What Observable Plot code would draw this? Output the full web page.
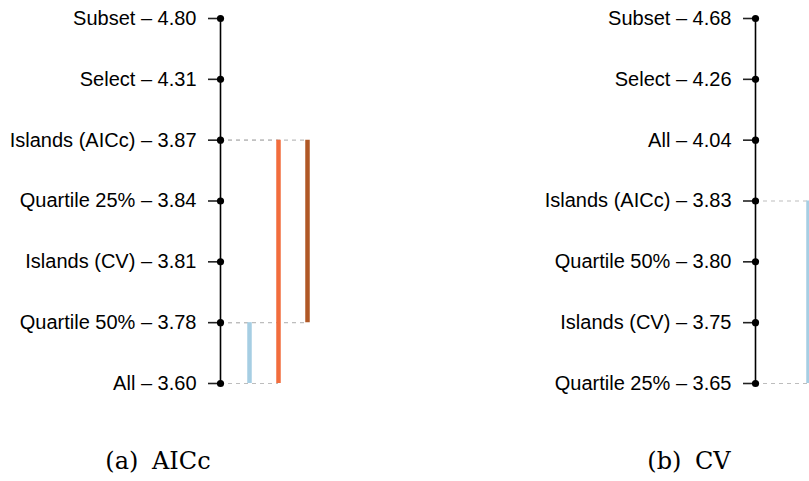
<!DOCTYPE html>
<html>
<head>
<meta charset="utf-8">
<script src="https://cdn.jsdelivr.net/npm/d3@7"></script>
<script src="https://cdn.jsdelivr.net/npm/@observablehq/plot@0.6"></script>
<style>
  html, body { margin: 0; padding: 0; background: #fff; }
  #wrap { position: relative; width: 809px; height: 481px; overflow: hidden; background: #fff; }
  .panel { position: absolute; top: 0; }
  .cap { position: absolute; top: 446px; transform: translateX(-50%); font-family: "DejaVu Serif", "Liberation Serif", serif; font-size: 24px; line-height: 30px; color: #000; white-space: nowrap; word-spacing: 6px; font-weight: 300; }
</style>
</head>
<body>
<div id="wrap">
  <div id="pa" class="panel" style="left:0px"></div>
  <div id="pb" class="panel" style="left:404px"></div>
  <div class="cap" style="left:158px">(a) AICc</div>
  <div class="cap" style="left:689px">(b) CV</div>
</div>
<script>
// ---- Data: panel (a) AICc ----
const aicLabels = ["Subset", "Select", "Islands (AICc)", "Quartile 25%", "Islands (CV)", "Quartile 50%", "All"];
const aicValues = [4.80, 4.31, 3.87, 3.84, 3.81, 3.78, 3.60];
const aicCliqueFrom = ["Quartile 50%", "Islands (AICc)", "Islands (AICc)"];
const aicCliqueTo = ["All", "All", "Quartile 50%"];
const aicCliqueColors = ["#a6cee3", "#f26d3d", "#b05826"];

// ---- Data: panel (b) CV ----
const cvLabels = ["Subset", "Select", "All", "Islands (AICc)", "Quartile 50%", "Islands (CV)", "Quartile 25%"];
const cvValues = [4.68, 4.26, 4.04, 3.83, 3.80, 3.75, 3.65];
const cvCliqueFrom = ["Islands (AICc)"];
const cvCliqueTo = ["Quartile 25%"];
const cvCliqueColors = ["#a6cee3"];

function cdPlot({labels, values, from, to, colors, width, marginLeft, marginRight, nCols}) {
  const n = labels.length;
  const rows = labels.map((l, i) => ({i, label: `${l} \u2013 ${values[i].toFixed(2)}`}));
  const cliques = from.map((f, k) => ({
    k: k + 1,
    y1: labels.indexOf(f),
    y2: labels.indexOf(to[k]),
    color: colors[k]
  }));
  const ends = cliques.flatMap(c => [{k: c.k, y: c.y1}, {k: c.k, y: c.y2}]);
  return Plot.plot({
    width,
    height: 400,
    marginLeft,
    marginRight,
    marginTop: 18,
    marginBottom: 17,
    style: {fontFamily: "'Liberation Sans', Arial, Helvetica, sans-serif", color: "#000", background: "#fff", overflow: "visible"},
    x: {domain: [0, nCols], axis: null},
    y: {domain: [0, n - 1], reverse: true, axis: null},
    marks: [
      Plot.ruleY(ends, {y: "y", x1: 0, x2: "k", stroke: "#bdbdbd", strokeWidth: 1.2, strokeDasharray: "4,4"}),
      Plot.axisY({
        anchor: "left",
        ticks: d3.range(n),
        tickFormat: i => rows[i].label,
        tickSize: 12,
        tickPadding: 12,
        fontSize: 20,
        strokeWidth: 1.6,
        stroke: "#222"
      }),
      Plot.ruleX([0], {y1: 0, y2: n - 1, stroke: "#000", strokeWidth: 1.6}),
      Plot.dot(rows, {x: 0, y: "i", r: 3.6, fill: "#000", stroke: "none"}),
      Plot.ruleX(cliques, {x: "k", y1: "y1", y2: "y2", stroke: "color", strokeWidth: 4.5})
    ]
  });
}

document.getElementById("pa").append(cdPlot({
  labels: aicLabels, values: aicValues,
  from: aicCliqueFrom, to: aicCliqueTo, colors: aicCliqueColors,
  width: 404, marginLeft: 220, marginRight: 97, nCols: 3
}));
document.getElementById("pb").append(cdPlot({
  labels: cvLabels, values: cvValues,
  from: cvCliqueFrom, to: cvCliqueTo, colors: cvCliqueColors,
  width: 405, marginLeft: 351, marginRight: 1, nCols: 1
}));
</script>
</body>
</html>
